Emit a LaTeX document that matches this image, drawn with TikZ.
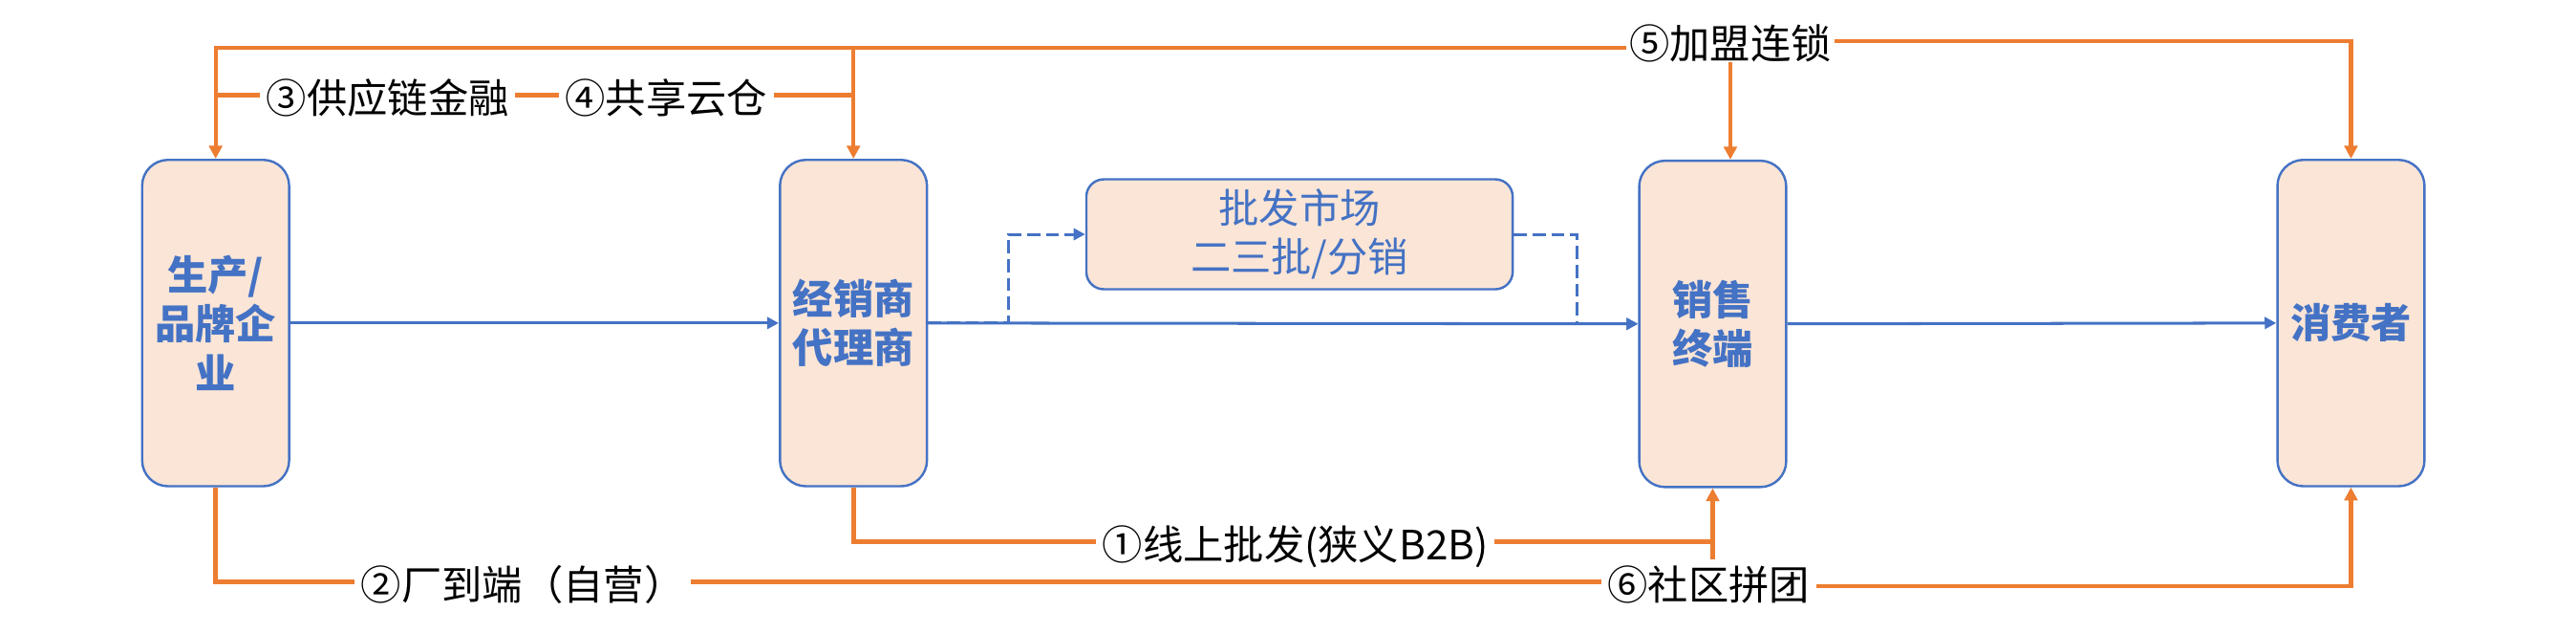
\documentclass[tikz,border=0pt]{standalone}
\usepackage{fontspec}
\setmainfont{Noto Sans CJK SC}
\usepackage{xcolor}
\usepackage{tikz}
\usetikzlibrary{arrows.meta,positioning}
\definecolor{chFill}{HTML}{FBE5D6}
\definecolor{chBlue}{HTML}{4472C4}
\definecolor{chOrange}{HTML}{ED7D31}

\begin{document}
\begin{tikzpicture}[
    font=\fontsize{14pt}{17pt}\selectfont,
    actor/.style={draw=chBlue,line width=0.8pt,fill=chFill,rounded corners=9pt,
                  minimum width=17.9mm,minimum height=39.7mm,align=center,
                  text=chBlue,font=\fontsize{14pt}{17pt}\selectfont\bfseries},
    market/.style={draw=chBlue,line width=0.8pt,fill=chFill,rounded corners=6pt,
                   minimum width=51.9mm,minimum height=13.1mm,align=center,text=chBlue},
    lbl/.style={text=black,inner sep=2pt,text height=1.25em,text depth=0pt},
    flow/.style={-{Triangle[length=4pt,width=4pt]},draw=chBlue,line width=1pt},
    flowd/.style={flow,dash pattern=on 4.5pt off 2pt},
    biz/.style={-{Triangle[length=4.5pt,width=4.5pt]},draw=chOrange,line width=1.4pt},
    bizln/.style={draw=chOrange,line width=1.6pt}
  ]
    \useasboundingbox (0,0) rectangle (31.36,7.7);

    \node[actor]  (prod)  at (2.625,3.77) {生产/\\品牌企\\业};
    \node[actor]  (deal)  at (10.39,3.77) {经销商\\代理商};
    \node[market] (whole) at (15.82,4.85) {批发市场\\二三批/分销};
    \node[actor]  (term)  at (20.85,3.76) {销售\\终端};
    \node[actor]  (cons)  at (28.62,3.77) {消费者};

    \node[lbl] (l3) at (4.72,6.544)  {③供应链金融};
    \node[lbl] (l4) at (8.11,6.544)  {④共享云仓};
    \node[lbl,text height=0.76em,inner sep=1pt] (l5) at (21.065,7.12) {⑤加盟连锁};
    \node[lbl] (l1) at (15.77,1.112) {①线上批发(狭义B2B)};
    \node[lbl] (l2) at (6.365,0.626) {②厂到端（自营）};
    \node[lbl] (l6) at (20.8,0.626)  {⑥社区拼团};
    \coordinate (t1) at (term.south |- 0,0.9);

    \draw[flow]  (prod.east) -- (deal.west);
    \draw[flow]  (deal.east) -- (term.west);
    \draw[flow]  (term.east) -- (cons.west);
    \draw[flowd] (deal.east) -- ++(0.98,0) |- (whole.west);
    \draw[flowd] (whole.east) -- ++(0.77,0) |- (term.west);

    \draw[biz]   (l5.west) -| (prod.north);
    \draw[biz]   (deal.north |- l5.west) -- (deal.north);
    \draw[biz]   (l5.south) -- (l5.south |- term.north);
    \draw[biz]   ([yshift=0.8mm]l5.east) -| (cons.north);
    \draw[bizln] (prod.north |- l3.west) -- (l3.west);
    \draw[bizln] (l3.east) -- (l4.west);
    \draw[bizln] (l4.east) -- (deal.north |- l4.east);

    \draw[bizln] (deal.south) |- (l1.west);
    \draw[bizln] (l1.east) -- (term.south |- l1.east);
    \draw[biz]   (t1) -- (term.south);
    \draw[bizln] (prod.south) |- (l2.west);
    \draw[bizln] (l2.east) -- (l6.west);
    \draw[biz]   ([yshift=-0.6mm]l6.east) -| (cons.south);
  \end{tikzpicture}
\end{document}
